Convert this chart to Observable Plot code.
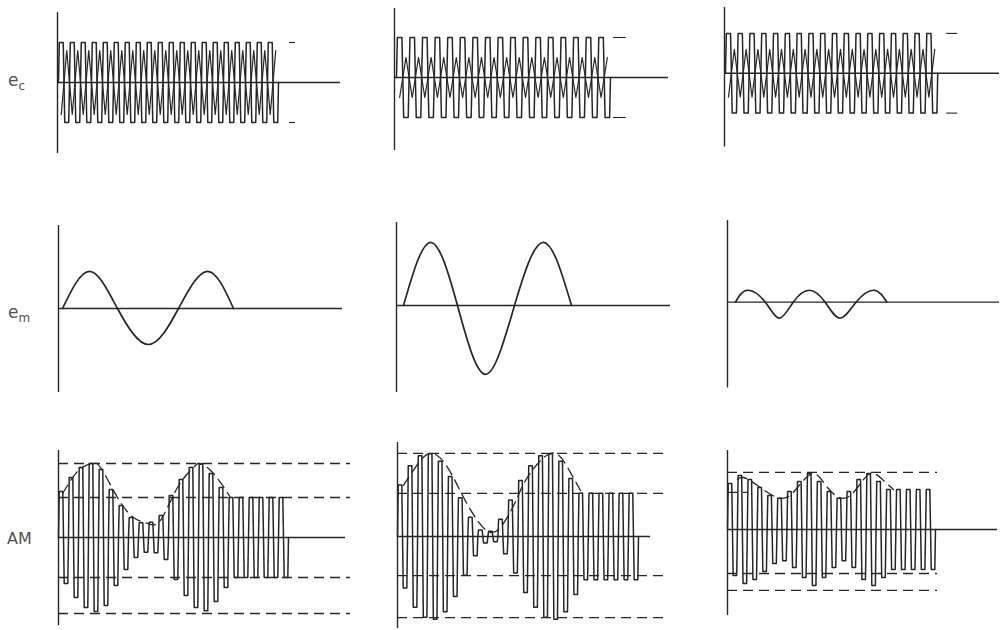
<!DOCTYPE html>
<html>
<head>
<meta charset="utf-8">
<script src="https://cdn.jsdelivr.net/npm/d3@7"></script>
<script src="https://cdn.jsdelivr.net/npm/@observablehq/plot@0.6"></script>
<style>
  body { margin: 0; background: #fff; }
  #wrap { position: relative; width: 1002px; height: 630px; overflow: hidden; background: #fff; }
  .panel { position: absolute; }
  .panel svg { overflow: visible; }
  .lab { position: absolute; font-family: "DejaVu Sans", sans-serif; color: #505050; line-height: 1; white-space: nowrap; }
  .lab sub { font-size: 12px; vertical-align: -4px; }
</style>
</head>
<body>
<div id="wrap"></div>
<script>
// ---------------- DATA (time in arbitrary units from the vertical axis, amplitude in carrier units) ----------------
// Row 1: carrier e_c
const carrierStart = [1, 2, 1];
const carrierEnd = [221, 216, 214];
const carrier1Amp = [1,1,1,1,1,1,1,1,1,1,1,1,1,1,1,1,1,1,1,1];
const carrier2Amp = [1,1,1,1,1,1,1,1,1,1,1,1,1,1,1,1,1];
const carrier3Amp = [1,1,1,1,1,1,1,1,1,1,1,1,1,1,1,1,1,1];
const carrierInner = [0.8, 0.5, 0.6];
const carrierTickFrom = [232, 219, 223];
const carrierTickTo = [238, 232, 234];
const carrierTickLevels = [1, -1];

// Row 2: modulating signal e_m (zero crossings and peaks)
const em1T = [4, 31, 59, 90, 120, 149, 175];
const em1V = [0, 0.93, 0, -0.9, 0, 0.93, 0];
const em2T = [7, 34, 61, 89, 118, 147, 175];
const em2V = [0, 1.58, 0, -1.72, 0, 1.58, 0];
const em3T = [8, 20, 38, 52, 66, 82, 98, 113, 129, 147, 160];
const em3V = [0, 0.3, 0, -0.4, 0, 0.3, 0, -0.4, 0, 0.3, 0];

// Row 3: AM signal, per-cycle peak amplitude
const am1Start = 0, am1End = 230;
const am1Amp = [1.15, 1.5, 1.75, 1.85, 1.7, 1.2, 0.8, 0.5, 0.37, 0.38, 0.55, 1.05, 1.45, 1.75, 1.83, 1.6, 1.25, 1.0, 1.0, 1.0, 1.0, 1.0, 1.0];
const am1EnvT = [4, 9, 20, 32, 42, 59, 75, 89, 102, 119, 135, 142, 155, 172];
const am1EnvV = [1.1, 1.3, 1.68, 1.85, 1.75, 1.0, 0.5, 0.35, 0.43, 1.25, 1.75, 1.85, 1.6, 1.0];
const am1Dash = [1.85, 1.0, -1.0, -1.9];

const am2Start = 0, am2End = 241;
const am2Amp = [1.29, 1.77, 2.02, 2.07, 1.88, 1.5, 0.97, 0.48, 0.16, 0.13, 0.43, 0.91, 1.4, 1.77, 2.02, 2.07, 1.88, 1.45, 1.08, 1.08, 1.08, 1.08, 1.08, 1.08];
const am2EnvT = [6, 18, 33, 50, 66, 80, 93, 106, 120, 130, 153, 170, 183];
const am2EnvV = [1.28, 1.73, 2.08, 1.73, 0.98, 0.4, 0.1, 0.33, 0.98, 1.48, 2.08, 1.73, 1.15];
const am2Dash = [2.08, 1.08, -0.98, -2.03];

const am3Start = 0, am3End = 208;
const am3Amp = [1.15, 1.35, 1.25, 1.05, 0.85, 0.78, 0.95, 1.2, 1.4, 1.2, 0.95, 0.78, 0.95, 1.25, 1.4, 1.2, 1.0, 1.0, 1.0, 1.0, 1.0];
const am3EnvT = [10, 16, 30, 53, 70, 86, 100, 116, 130, 143, 155, 166];
const am3EnvV = [1.25, 1.3, 1.1, 0.78, 1.05, 1.4, 1.05, 0.78, 1.05, 1.4, 1.25, 1.0];
const am3Dash = [1.43, -1.1, -1.52];
const am3ShortDash = [0.93];

const rowLabels = ["e", "e", "AM"];
const rowLabelSubs = ["c", "m", ""];

// ---------------- SHAPES / LAYOUT ----------------
const pulseShape = [[0, 0], [0.07, 1], [0.43, 1], [0.5, 0], [0.57, -1], [0.93, -1], [1, 0]];
const innerShape = [[0.25, -1], [0.75, 1]];

function buildWave(start, end, amps, shape, key) {
  const P = (end - start) / amps.length, out = [];
  amps.forEach((a, i) => shape.forEach(([ph, v]) => {
    if (i > 0 && ph === 0) return;
    out.push({t: start + (i + ph) * P, v: v * a, k: key});
  }));
  return out;
}
function pts(T, V) { return T.map((t, i) => ({t, v: V[i]})); }

const ink = "#262626";
const U = 40; // px per amplitude unit

// panel geometry: axis x, top, bottom, zero line y (page px); lineEnd in time units
const layout = [
  {axis: 57, top: 12, bottom: 153, zero: 82, lineEnd: 283},
  {axis: 394, top: 8, bottom: 150, zero: 77, lineEnd: 274},
  {axis: 724, top: 7, bottom: 147, zero: 73, lineEnd: 276},
  {axis: 58, top: 225, bottom: 392, zero: 308, lineEnd: 284},
  {axis: 396, top: 222, bottom: 392, zero: 305, lineEnd: 274},
  {axis: 727, top: 220, bottom: 388, zero: 302, lineEnd: 273},
  {axis: 58, top: 450, bottom: 625, zero: 537, lineEnd: 287, dashEnd: 292},
  {axis: 397, top: 442, bottom: 628, zero: 536, lineEnd: 253, dashEnd: 270},
  {axis: 727, top: 450, bottom: 615, zero: 529, lineEnd: 270, dashEnd: 210}
];

const wrap = document.getElementById("wrap");

function panel(g, marks) {
  const pad = 3;
  const maxT = Math.max(g.lineEnd, g.dashEnd || 0);
  const W = maxT + 2 * pad;
  const H = g.bottom - g.top;
  const chart = Plot.plot({
    width: W, height: H, margin: 0,
    x: {domain: [-pad, W - pad], axis: null},
    y: {domain: [-(g.bottom - g.zero) / U, (g.zero - g.top) / U], axis: null},
    style: {background: "transparent", overflow: "visible"},
    marks: [
      Plot.ruleX([0], {stroke: ink, strokeWidth: 1.4}),
      Plot.ruleY([0], {x1: 0, x2: g.lineEnd, stroke: ink, strokeWidth: 1.3}),
      ...marks
    ]
  });
  const div = document.createElement("div");
  div.className = "panel";
  div.style.left = (g.axis - pad) + "px";
  div.style.top = g.top + "px";
  div.appendChild(chart);
  wrap.appendChild(div);
}

const dashStyle = {stroke: ink, strokeWidth: 1.3, strokeDasharray: "10,6"};

// Row 1 carriers
[carrier1Amp, carrier2Amp, carrier3Amp].forEach((amps, c) => {
  const main = buildWave(carrierStart[c], carrierEnd[c], amps, pulseShape, "main");
  const inner = buildWave(carrierStart[c], carrierEnd[c], amps.map(a => a * carrierInner[c]), innerShape, "inner");
  panel(layout[c], [
    Plot.line(inner, {x: "t", y: "v", stroke: ink, strokeWidth: 1.2}),
    Plot.line(main, {x: "t", y: "v", stroke: ink, strokeWidth: 1.5}),
    Plot.ruleY(carrierTickLevels, {x1: carrierTickFrom[c], x2: carrierTickTo[c], stroke: ink, strokeWidth: 1.1})
  ]);
});

// Row 2 modulating signals
[[em1T, em1V], [em2T, em2V], [em3T, em3V]].forEach(([T, V], c) => {
  panel(layout[3 + c], [
    Plot.line(pts(T, V), {x: "t", y: "v", curve: "natural", stroke: ink, strokeWidth: 1.7})
  ]);
});

// Row 3 AM signals
const amSets = [
  {s: am1Start, e: am1End, amp: am1Amp, envT: am1EnvT, envV: am1EnvV, dash: am1Dash, short: []},
  {s: am2Start, e: am2End, amp: am2Amp, envT: am2EnvT, envV: am2EnvV, dash: am2Dash, short: []},
  {s: am3Start, e: am3End, amp: am3Amp, envT: am3EnvT, envV: am3EnvV, dash: am3Dash, short: am3ShortDash}
];
amSets.forEach((d, c) => {
  const g = layout[6 + c];
  panel(g, [
    Plot.ruleY(d.dash, {x1: 0, x2: g.dashEnd, ...dashStyle}),
    Plot.ruleY(d.short, {x1: 0, x2: 20, ...dashStyle}),
    Plot.line(buildWave(d.s, d.e, d.amp, pulseShape, "am"), {x: "t", y: "v", stroke: ink, strokeWidth: 1.5}),
    Plot.line(pts(d.envT, d.envV), {x: "t", y: "v", curve: "natural", ...dashStyle})
  ]);
});

// Row labels
const labelPos = [{left: 8, top: 72, size: 17}, {left: 8, top: 304, size: 17}, {left: 7, top: 531, size: 16}];
rowLabels.forEach((txt, i) => {
  const el = document.createElement("div");
  el.className = "lab";
  el.style.left = labelPos[i].left + "px";
  el.style.top = labelPos[i].top + "px";
  el.style.fontSize = labelPos[i].size + "px";
  el.textContent = txt;
  if (rowLabelSubs[i]) {
    const s = document.createElement("sub");
    s.textContent = rowLabelSubs[i];
    el.appendChild(s);
  }
  wrap.appendChild(el);
});
</script>
</body>
</html>
